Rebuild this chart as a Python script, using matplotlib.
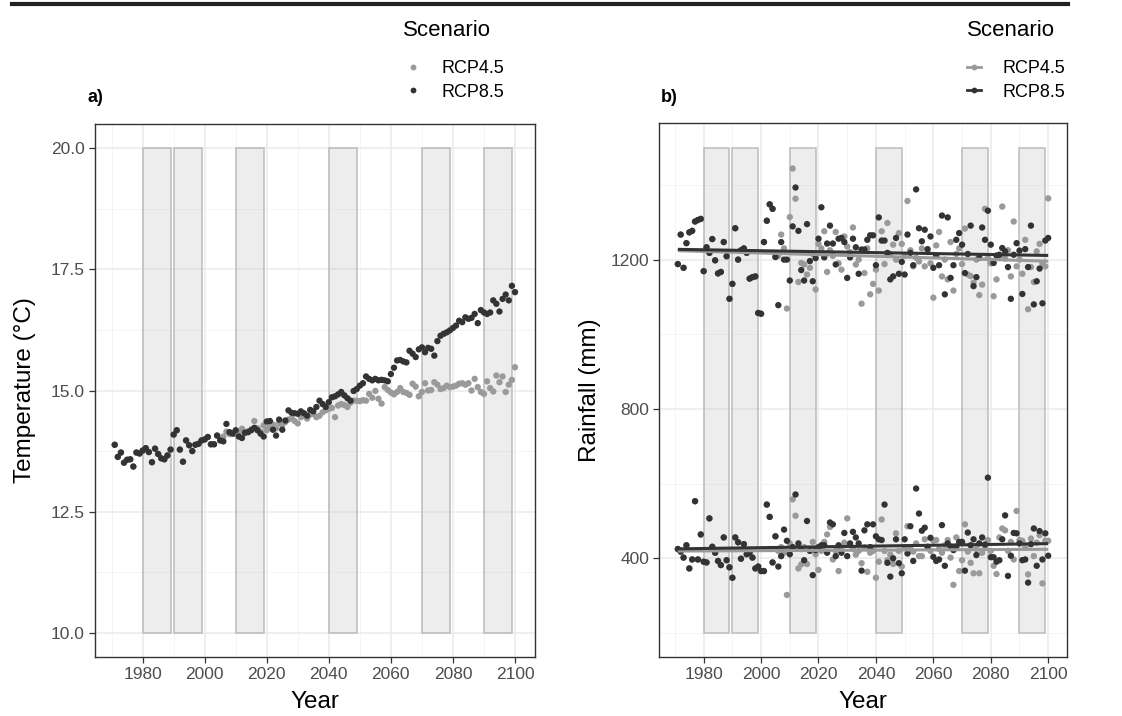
import numpy as np
import matplotlib
matplotlib.use("Agg")
import matplotlib.pyplot as plt
from matplotlib.lines import Line2D
from matplotlib.patches import Rectangle

plt.rcParams['font.family'] = ['Liberation Sans', 'DejaVu Sans']

# ---------------- data ----------------
first_year = 1971
last_year = 2100
hist_end = 2005  # last shared (historical) year

scenarios = ["RCP4.5", "RCP8.5"]
colors = {"RCP4.5": "#9a9a9a", "RCP8.5": "#333333"}

# periods shown as shaded boxes (start, end)
period_starts = [1980, 1990, 2010, 2040, 2070, 2090]
period_ends = [1989, 1999, 2019, 2049, 2079, 2099]
temp_box = (10.0, 20.0)
rain_box = (200, 1500)

temp_rcp85 = [
    13.88, 13.63, 13.72, 13.51, 13.57, 13.58, 13.43, 13.72, 13.70, 13.76,
    13.81, 13.73, 13.52, 13.80, 13.69, 13.60, 13.58, 13.66, 13.78, 14.09,
    14.18, 13.78, 13.53, 13.97, 13.87, 13.75, 13.88, 13.90, 13.97, 13.99,
    14.04, 13.89, 13.89, 14.07, 13.97, 13.95, 14.31, 14.14, 14.11, 14.18,
    14.05, 14.02, 14.13, 14.14, 14.18, 14.23, 14.18, 14.11, 14.05, 14.36,
    14.37, 14.19, 14.07, 14.40, 14.19, 14.38, 14.59, 14.54, 14.53, 14.52,
    14.57, 14.53, 14.48, 14.60, 14.57, 14.66, 14.79, 14.72, 14.66, 14.76,
    14.86, 14.88, 14.92, 14.97, 14.90, 14.84, 14.79, 14.99, 15.03, 15.10,
    15.15, 15.29, 15.24, 15.21, 15.24, 15.21, 15.22, 15.21, 15.19, 15.34,
    15.47, 15.62, 15.63, 15.60, 15.58, 15.82, 15.76, 15.69, 15.85, 15.89,
    15.79, 15.88, 15.86, 15.72, 16.02, 16.13, 16.17, 16.20, 16.24, 16.29,
    16.34, 16.44, 16.41, 16.51, 16.48, 16.50, 16.58, 16.39, 16.66, 16.61,
    16.58, 16.61, 16.86, 16.79, 16.63, 16.89, 16.98, 16.86, 17.16, 17.03]

temp_rcp45_future = [
    14.05, 14.15, 14.10, 14.12, 14.10, 14.14, 14.21, 14.12, 14.16, 14.20,
    14.37, 14.22, 14.15, 14.28, 14.18, 14.25, 14.30, 14.22, 14.33, 14.28,
    14.35, 14.40, 14.42, 14.37, 14.32, 14.45, 14.48, 14.42, 14.50, 14.52,
    14.45, 14.48, 14.55, 14.59, 14.62, 14.64, 14.45, 14.69, 14.72, 14.70,
    14.66, 14.75, 14.79, 14.79, 14.78, 14.80, 14.79, 14.93, 14.85, 14.99,
    14.83, 14.73, 15.07, 15.01, 14.96, 14.92, 14.97, 15.05, 14.97, 14.95,
    14.91, 15.14, 15.08, 14.88, 14.97, 15.15, 15.00, 15.01, 15.17, 15.12,
    15.03, 15.05, 15.10, 15.07, 15.08, 15.10, 15.14, 15.15, 15.12, 15.15,
    15.00, 15.24, 15.07, 14.97, 14.93, 15.19, 15.05, 14.98, 15.31, 15.17,
    15.29, 14.97, 15.12, 15.22, 15.48]

rain_high_rcp85 = [
    1188, 1267, 1178, 1244, 1273, 1277, 1302, 1306, 1309, 1169,
    1233, 1218, 1255, 1198, 1163, 1167, 1247, 1209, 1095, 1135,
    1284, 1200, 1225, 1230, 1218, 1149, 1153, 1155, 1057, 1055,
    1247, 1304, 1348, 1336, 1207, 1078, 1247, 1200, 1200, 1144,
    1289, 1393, 1277, 1172, 1144, 1295, 1196, 1142, 1204, 1256,
    1340, 1206, 1243, 1291, 1243, 1187, 1256, 1258, 1247, 1151,
    1206, 1256, 1233, 1162, 1227, 1227, 1253, 1265, 1265, 1185,
    1313, 1251, 1251, 1218, 1147, 1155, 1258, 1162, 1194, 1160,
    1267, 1218, 1185, 1388, 1284, 1249, 1280, 1228, 1262, 1178,
    1210, 1185, 1318, 1107, 1313, 1151, 1185, 1253, 1271, 1240,
    1164, 1215, 1291, 1129, 1153, 1205, 1286, 1253, 1331, 1240,
    1191, 1211, 1213, 1231, 1222, 1180, 1095, 1213, 1244, 1224,
    1108, 1228, 1180, 1291, 1080, 1142, 1176, 1083, 1251, 1258]

rain_high_rcp45_future = [
    1210, 1267, 1230, 1069, 1314, 1444, 1363, 1140, 1191, 1187,
    1160, 1178, 1215, 1120, 1242, 1230, 1276, 1167, 1225, 1210,
    1274, 1190, 1173, 1262, 1235, 1220, 1286, 1187, 1200, 1082,
    1164, 1230, 1107, 1135, 1173, 1117, 1276, 1188, 1298, 1215,
    1240, 1200, 1271, 1242, 1210, 1357, 1225, 1182, 1205, 1195,
    1230, 1182, 1220, 1190, 1098, 1238, 1274, 1155, 1200, 1147,
    1247, 1117, 1215, 1230, 1188, 1283, 1160, 1156, 1138, 1200,
    1105, 1133, 1336, 1204, 1190, 1102, 1147, 1210, 1342, 1203,
    1225, 1155, 1302, 1182, 1200, 1162, 1253, 1067, 1180, 1140,
    1222, 1242, 1190, 1182, 1364]

rain_low_rcp85 = [
    425, 418, 402, 435, 373, 397, 553, 397, 464, 391,
    389, 507, 431, 415, 393, 382, 456, 395, 376, 348,
    456, 443, 399, 438, 411, 415, 402, 373, 378, 366,
    366, 544, 511, 389, 459, 378, 406, 477, 447, 411,
    430, 571, 440, 425, 395, 500, 420, 355, 422, 430,
    435, 435, 415, 496, 491, 406, 435, 415, 468, 406,
    440, 471, 456, 440, 367, 475, 491, 430, 491, 459,
    451, 449, 544, 388, 351, 400, 451, 387, 360, 451,
    413, 486, 393, 587, 520, 474, 482, 431, 455, 404,
    393, 397, 489, 380, 440, 431, 422, 431, 444, 444,
    367, 469, 435, 451, 409, 440, 456, 437, 616, 403,
    403, 391, 395, 451, 515, 353, 407, 468, 467, 440,
    395, 397, 335, 438, 480, 380, 473, 397, 467, 407]

rain_low_rcp45_future = [
    420, 430, 415, 302, 440, 558, 514, 373, 384, 430,
    385, 425, 444, 411, 369, 420, 444, 464, 484, 397,
    420, 366, 430, 442, 507, 435, 425, 410, 420, 387,
    430, 364, 415, 420, 348, 391, 504, 420, 395, 410,
    385, 467, 420, 378, 430, 486, 425, 418, 440, 406,
    406, 451, 430, 420, 447, 449, 425, 415, 435, 449,
    402, 329, 456, 366, 395, 491, 418, 388, 360, 425,
    360, 415, 430, 449, 420, 380, 358, 456, 480, 475,
    420, 444, 397, 527, 449, 447, 430, 357, 453, 406,
    442, 462, 333, 447, 447]

temp_ticks = [10.0, 12.5, 15.0, 17.5, 20.0]
rain_ticks = [400, 800, 1200]
year_ticks = [1980, 2000, 2020, 2040, 2060, 2080, 2100]

# ---------------- build series ----------------
years = np.arange(first_year, last_year + 1)
n_hist = hist_end - first_year + 1
temp = {
    "RCP8.5": np.array(temp_rcp85),
    "RCP4.5": np.array(temp_rcp85[:n_hist] + temp_rcp45_future),
}
rain_hi = {
    "RCP8.5": np.array(rain_high_rcp85),
    "RCP4.5": np.array(rain_high_rcp85[:n_hist] + rain_high_rcp45_future),
}
rain_lo = {
    "RCP8.5": np.array(rain_low_rcp85),
    "RCP4.5": np.array(rain_low_rcp85[:n_hist] + rain_low_rcp45_future),
}

# ---------------- figure ----------------
W, H = 1122, 716
fig = plt.figure(figsize=(W / 100, H / 100), dpi=100)


def fx(px):
    return px / W


def fy(py):
    return 1 - py / H


axA = fig.add_axes([fx(94.7), fy(657), fx(535) - fx(94.7), fy(124) - fy(657)])
axB = fig.add_axes([fx(659.3), fy(657.3), fx(1066.7) - fx(659.3), fy(123.3) - fy(657.3)])

tick_col = "#4d4d4d"
frame_col = "#333333"


def style(ax, ymin, ymax, yticks, yminor, ylabels):
    ax.set_xlim(first_year - 0.05 * (last_year - first_year), last_year + 0.05 * (last_year - first_year))
    pad = 0.05 * (ymax - ymin)
    ax.set_ylim(ymin - pad, ymax + pad)
    ax.set_xticks(year_ticks)
    ax.set_xticks([1970, 1990, 2010, 2030, 2050, 2070, 2090], minor=True)
    ax.set_yticks(yticks)
    ax.set_yticklabels(ylabels)
    ax.set_yticks(yminor, minor=True)
    ax.grid(which="major", color="#ebebeb", lw=1.1)
    ax.grid(which="minor", color="#f2f2f2", lw=0.6)
    ax.set_axisbelow(True)
    ax.tick_params(which="major", length=4, width=0.9, color=frame_col,
                   labelcolor=tick_col, labelsize=12.5, pad=3)
    ax.tick_params(which="minor", length=0)
    for s in ax.spines.values():
        s.set_color(frame_col)
        s.set_linewidth(1.0)


def boxes(ax, lo, hi):
    for s, e in zip(period_starts, period_ends):
        ax.add_patch(Rectangle((s, lo), e - s, hi - lo, facecolor="#bdbdbd",
                               alpha=0.27, edgecolor="none", zorder=1))
        ax.add_patch(Rectangle((s, lo), e - s, hi - lo, facecolor="none",
                               edgecolor="#bcbcbc", lw=1.1, zorder=1.1))


# ---- panel a ----
style(axA, temp_box[0], temp_box[1], temp_ticks, [11.25, 13.75, 16.25, 18.75],
      ["10.0", "12.5", "15.0", "17.5", "20.0"])
boxes(axA, *temp_box)
for sc in scenarios:
    axA.scatter(years, temp[sc], s=21, color=colors[sc], edgecolors="none", zorder=3)
axA.set_xlabel("Year", fontsize=17.5)
axA.xaxis.set_label_coords(0.5, -(702 - 657) / 533)
axA.xaxis.label.set_va("center")
axA.set_ylabel("Temperature (°C)", fontsize=17.5)
axA.yaxis.set_label_coords(-(94.7 - 25) / 440.3, 0.5)
axA.yaxis.label.set_va("center")

# ---- panel b ----
style(axB, rain_box[0], rain_box[1], rain_ticks, [200, 600, 1000, 1400],
      [str(t) for t in rain_ticks])
boxes(axB, *rain_box)
for sc in scenarios:
    for series in (rain_hi, rain_lo):
        axB.scatter(years, series[sc], s=21, color=colors[sc], edgecolors="none", zorder=3)
for sc in scenarios:
    for series in (rain_hi, rain_lo):
        coef = np.polyfit(years, series[sc], 1)
        axB.plot(years, np.polyval(coef, years), color=colors[sc], lw=2.2,
                 solid_capstyle="butt", zorder=4)
axB.set_xlabel("Year", fontsize=17.5)
axB.xaxis.set_label_coords(0.5, -(702 - 657.3) / 534)
axB.xaxis.label.set_va("center")
axB.set_ylabel("Rainfall (mm)", fontsize=17.5)
axB.yaxis.set_label_coords(-(659.3 - 590) / 407.4, 0.5)
axB.yaxis.label.set_va("center")

# ---- legends ----
for x_title, x_leg, with_line in ((403, 406, False), (967, 967, True)):
    fig.text(fx(x_title), fy(30), "Scenario", fontsize=16, ha="left", va="center")
    handles = [Line2D([], [], color=colors[sc], marker="o", markersize=4.2,
                      markeredgewidth=0, linestyle="-" if with_line else "none",
                      lw=2.0) for sc in scenarios]
    fig.legend(handles, scenarios, loc="center left",
               bbox_to_anchor=(fx(x_leg), fy(80.5)), frameon=False,
               fontsize=13, handlelength=0.75, handletextpad=1.2,
               borderpad=0, borderaxespad=0, labelspacing=0.35)

# ---- tags ----
fig.text(fx(88), fy(98), "a)", fontsize=13, fontweight="bold", ha="left", va="center")
fig.text(fx(661), fy(98), "b)", fontsize=13, fontweight="bold", ha="left", va="center")

# ---- top rule ----
fig.add_artist(Line2D([fx(12), fx(1068)], [fy(3.5), fy(3.5)], color="#222222", lw=3))

fig.savefig("out.png", dpi=100)
